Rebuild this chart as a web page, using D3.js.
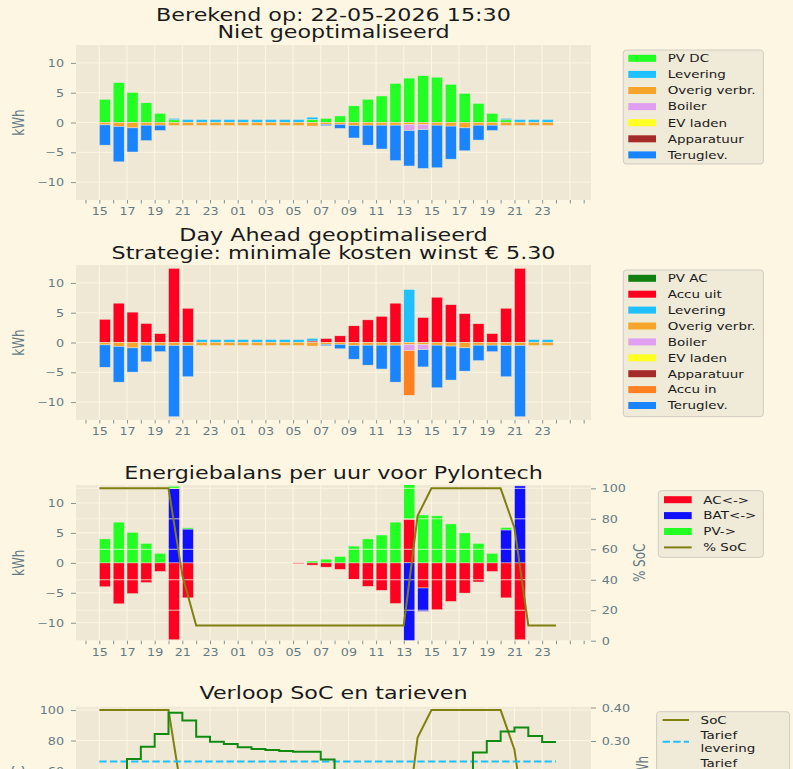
<!DOCTYPE html>
<html><head><meta charset="utf-8">
<script src="https://cdn.jsdelivr.net/npm/d3@7/dist/d3.min.js"></script>
<style>html,body{margin:0;padding:0;background:#fdf6e3;overflow:hidden}</style>
</head><body>
<svg id="chart" width="793" height="769" xmlns="http://www.w3.org/2000/svg"></svg>
<script>
// ---------------- DATA ----------------
const hourLabels = ["15","16","17","18","19","20","21","22","23","00","01","02","03","04","05","06","07","08","09","10","11","12","13","14","15","16","17","18","19","20","21","22","23"];

// Panel 1: Niet geoptimaliseerd (kWh)
const pvDC      = [3.9,6.7,5.05,3.3,1.55,0.45, 0,0,0,0,0,0,0,0,0, 0.5,0.7,1.1,2.8,3.9,4.45,6.55,7.45,7.85,7.6,6.4,4.9,3.2,1.55,0.45, 0,0,0];
const levering1 = [0,0,0,0,0,0.25, 0.5,0.5,0.5,0.5,0.5,0.5,0.5,0.5,0.5, 0.4,0,0,0,0,0,0,0,0,0,0,0,0,0,0.25, 0.5,0.5,0.5];
const overig    = [-0.4,-0.65,-0.9,-0.45,-0.45,-0.5, -0.5,-0.5,-0.5,-0.5,-0.5,-0.5,-0.5,-0.5,-0.5, -0.6,-0.3,-0.3,-0.5,-0.45,-0.45,-0.45,-0.35,-0.35,-0.45,-0.6,-0.9,-0.45,-0.45,-0.5, -0.5,-0.5,-0.5];
const boiler    = [0,0,0,0,0,0, 0,0,0,0,0,0,0,0,0, 0,0,0,0,0,0,0,-1.0,-0.85,0,0,0,0,0,0, 0,0,0];
const evLaden   = [0,0,0,0,0,0, 0,0,0,0,0,0,0,0,0, 0,0,0,0,0,0,0,0,0,0,0,0,0,0,0, 0,0,0];
const apparatuur= [0,0,0,0,0,0, 0,0,0,0,0,0,0,0,0, 0,0,0,0,0,0,0,0,0,0,0,0,0,0,0, 0,0,0];
const teruglev1 = [-3.4,-5.95,-4.05,-2.6,-0.9,0, 0,0,0,0,0,0,0,0,0, 0,-0.25,-0.7,-2.1,-3.35,-4.0,-5.95,-5.95,-6.5,-7.15,-5.55,-3.85,-2.5,-0.9,0, 0,0,0];

// Panel 2: Day Ahead geoptimaliseerd (kWh)
const pvAC      = [0,0,0,0,0,0,0, 0,0,0,0,0,0,0,0, 0,0,0,0,0,0,0, 0, 0,0,0,0,0,0,0,0, 0,0];
const accuUit   = [3.9,6.6,5.1,3.2,1.5,12.45,5.75, 0,0,0,0,0,0,0,0, 0.25,0.67,1.12,2.8,3.8,4.4,6.6, 0, 4.2,7.6,6.35,4.85,3.15,1.5,5.75,12.45, 0,0];
const levering2 = [0,0,0,0,0,0,0, 0.5,0.5,0.5,0.5,0.5,0.5,0.5,0.5, 0.45,0,0,0,0,0,0, 8.9, 0,0,0,0,0,0,0,0, 0.5,0.5];
const accuIn    = [0,0,0,0,0,0,0, 0,0,0,0,0,0,0,0, 0,0,0,0,0,0,0, -7.5, 0,0,0,0,0,0,0,0, 0,0];
const teruglev2 = [-3.75,-6.0,-4.07,-2.8,-1.1,-11.96,-5.25, 0,0,0,0,0,0,0,0, 0,-0.25,-0.76,-2.3,-3.35,-4.0,-6.2, 0, -2.9,-7.15,-5.7,-3.9,-2.6,-1.1,-5.25,-11.96, 0,0];

// Panel 3: Energiebalans per uur voor Pylontech (kWh)
const acFlow  = [-4.0,-6.85,-5.15,-3.3,-1.45,-12.85,-5.85, 0,0,0,0,0,0,0, -0.12,-0.38,-0.72,-1.1,-2.75,-3.93,-4.6,-6.8, 7.3, -4.2,-7.85,-6.45,-5.05,-3.2,-1.45,-5.85,-12.85, 0,0];
const batFlow = [0,0,0,0,0,12.4,5.65, 0,0,0,0,0,0,0,0,0,0,0,0,0,0,0, -13.2, -3.9, 0,0,0,0,0, 5.5,12.85, 0,0];
const pvFlow  = [4.0,6.8,5.1,3.25,1.6,0.4,0.2, 0,0,0,0,0,0,0,0, 0.3,0.62,1.07,2.8,4.0,4.65,6.8, 5.8, 8.0,7.85,6.5,5.0,3.25,1.6,0.4, 0, 0,0];

// SoC (%) at the start of each hour, 34 points
const soc = [100,100,100,100,100,100,43,10,10,10,10,10,10,10,10,10,10,10,10,10,10,10,10,82,100,100,100,100,100,100,74,10,10,10];

// Panel 4: tariffs (euro/kWh), 34 points, step "post"
const tariefTeruglev = [0.20,0.21,0.246,0.283,0.321,0.384,0.361,0.313,0.298,0.291,0.281,0.276,0.273,0.270,0.268,0.268,0.245,0.21,0.19,0.18,0.17,0.16,0.15,0.15,0.16,0.18,0.20,0.266,0.300,0.328,0.340,0.315,0.297,0.297];
const tariefLevering = [0.239,0.239,0.239,0.239,0.239,0.239,0.239,0.239,0.239,0.239,0.239,0.239,0.239,0.239,0.239,0.239,0.239,0.239,0.239,0.239,0.239,0.239,0.239,0.239,0.239,0.239,0.239,0.239,0.239,0.239,0.239,0.239,0.239,0.239];

const kwhTicks = [-10,-5,0,5,10];
const socTicks = [0,20,40,60,80,100];
const tariefTicks = [0.0,0.1,0.2,0.3,0.4];

// ---------------- STYLE ----------------
const SX = 1.27;
const FONT = "'DejaVu Sans', sans-serif";
const BG = "#fdf6e3", AXBG = "#eee8d5", GRID = "#fdf6e3", TICK = "#657b83", TXT = "#1a1a1a";
const C = {
  pvdc:"#22ff22", lev:"#20c0ff", overig:"#f5a52a", boiler:"#e09ff0", ev:"#ffff22",
  app:"#a52a2a", terug:"#1a84ff", pvac:"#118011", uit:"#ff0020", accuin:"#ff8020",
  ac:"#ff0020", bat:"#1010ff", pv:"#22ff22", soc:"#808010", tlev:"#20c0ff", tterug:"#128a12"
};

const svg = d3.select("#chart");
svg.append("rect").attr("width",793).attr("height",769).attr("fill",BG);

const L = 76, R = 591;
const x = d3.scaleLinear().domain([-1.685, 35.53]).range([L, R]);
const BARW = 0.8;

function txt(g, tx, ty, s, opt) {
  const size = opt.size || 10;
  const rot = opt.rot ? " rotate(" + opt.rot + ")" : "";
  return g.append("text")
    .attr("transform", "translate(" + tx + "," + ty + ") scale(" + SX + ",1)" + rot)
    .attr("font-family", FONT).attr("font-size", size)
    .attr("fill", opt.fill || TXT).attr("text-anchor", opt.anchor || "start")
    .text(s);
}

function panel(top, bottom, id) {
  const g = svg.append("g");
  g.append("rect").attr("x", L).attr("y", top).attr("width", R - L).attr("height", bottom - top).attr("fill", AXBG);
  svg.append("clipPath").attr("id", id).append("rect").attr("x", L).attr("y", top).attr("width", R - L).attr("height", bottom - top);
  return g;
}

function vgrid(g, top, bottom) {
  g.append("g").selectAll("line").data(d3.range(0, 35, 2)).join("line")
    .attr("x1", d => x(d)).attr("x2", d => x(d)).attr("y1", top).attr("y2", bottom)
    .attr("stroke", GRID).attr("stroke-width", 1);
}
function hgrid(g, y, ticks, op) {
  g.append("g").selectAll("line").data(ticks).join("line")
    .attr("x1", L).attr("x2", R).attr("y1", d => y(d)).attr("y2", d => y(d))
    .attr("stroke", GRID).attr("stroke-width", 1).attr("opacity", op == null ? 1 : op);
}

function xAxis(g, bottom) {
  const ax = d3.axisBottom(x).tickValues(d3.range(-1, 36)).tickSize(3.5).tickPadding(2)
    .tickFormat(i => (i % 2 === 0 && i >= 0 && hourLabels[i]) ? hourLabels[i] : "");
  const a = g.append("g").attr("transform", "translate(0," + bottom + ")").call(ax);
  a.select(".domain").remove();
  a.selectAll(".tick line").attr("stroke", TICK).attr("stroke-width", 0.8);
  a.selectAll(".tick text").attr("fill", TICK).attr("font-size", 10).attr("font-family", FONT)
    .attr("dy", null).attr("y", 15.5).attr("transform", "scale(" + SX + ",1)");
}
function yAxis(g, y, ticks, fmt, side) {
  const ax = (side === "left" ? d3.axisLeft(y) : d3.axisRight(y)).tickValues(ticks).tickSize(5).tickFormat(fmt);
  const a = g.append("g").attr("transform", "translate(" + (side === "left" ? L : R) + ",0)").call(ax);
  a.select(".domain").remove();
  a.selectAll(".tick line").attr("stroke", TICK).attr("stroke-width", 0.8);
  a.selectAll(".tick text").attr("fill", TICK).attr("font-size", 10).attr("font-family", FONT)
    .attr("x", side === "left" ? -12 / SX : 10.7 / SX).attr("dy", "0.35em")
    .attr("transform", "scale(" + SX + ",1)");
}

function stackedBars(g, clipId, y, series) {
  const keys = series.map(s => s.key);
  const rows = hourLabels.map(function (lab, i) {
    const r = {};
    series.forEach(function (s) { r[s.key] = s.values[i]; });
    return r;
  });
  const stacked = d3.stack().keys(keys).offset(d3.stackOffsetDiverging)(rows);
  const bg = g.append("g").attr("clip-path", "url(#" + clipId + ")");
  stacked.forEach(function (layer, k) {
    const segs = [];
    layer.forEach(function (d, i) {
      if (Math.abs(d[1] - d[0]) > 1e-9) segs.push({ lo: Math.min(d[0], d[1]), hi: Math.max(d[0], d[1]), i: i });
    });
    bg.append("g").selectAll("rect").data(segs).join("rect")
      .attr("x", s => x(s.i)).attr("width", s => x(s.i + BARW) - x(s.i))
      .attr("y", s => y(s.hi)).attr("height", s => y(s.lo) - y(s.hi))
      .attr("fill", series[k].color).attr("stroke", AXBG).attr("stroke-width", 0.5);
  });
}

function legend(g, bx, by, bw, bh, items, rowY, step, hx, hw, tx) {
  g.append("rect").attr("x", bx).attr("y", by).attr("width", bw).attr("height", bh)
    .attr("rx", 3).attr("fill", "#f0ead9").attr("stroke", "#cfcbc0").attr("stroke-width", 1);
  items.forEach(function (it, k) {
    const cy = rowY + k * step;
    if (it.line) {
      g.append("line").attr("x1", hx).attr("x2", hx + hw).attr("y1", cy).attr("y2", cy)
        .attr("stroke", it.color).attr("stroke-width", 2);
    } else {
      g.append("rect").attr("x", hx).attr("y", cy - 3.5).attr("width", hw).attr("height", 7).attr("fill", it.color);
    }
    txt(g, tx, cy + 3.8, it.label, { size: 10.6 });
  });
}

const kfmt = d3.format("d");

// ---------------- PANEL 1 ----------------
(function () {
  const top = 45, bottom = 200;
  const y = d3.scaleLinear().domain([-13, 13]).range([bottom, top]);
  const g = panel(top, bottom, "c1");
  vgrid(g, top, bottom); hgrid(g, y, kwhTicks);
  stackedBars(g, "c1", y, [
    { key: "PV DC", values: pvDC, color: C.pvdc },
    { key: "Levering", values: levering1, color: C.lev },
    { key: "Overig verbr.", values: overig, color: C.overig },
    { key: "Boiler", values: boiler, color: C.boiler },
    { key: "EV laden", values: evLaden, color: C.ev },
    { key: "Apparatuur", values: apparatuur, color: C.app },
    { key: "Teruglev.", values: teruglev1, color: C.terug }
  ]);
  xAxis(g, bottom); yAxis(g, y, kwhTicks, kfmt, "left");
  txt(g, 333.5, 20.7, "Berekend op: 22-05-2026 15:30", { size: 17.5, anchor: "middle" });
  txt(g, 333.5, 37.7, "Niet geoptimaliseerd", { size: 17.5, anchor: "middle" });
  txt(g, 24, (top + bottom) / 2, "kWh", { size: 12, anchor: "middle", rot: -90, fill: TICK });
  legend(g, 623.3, 50, 140, 114, [
    { label: "PV DC", color: C.pvdc }, { label: "Levering", color: C.lev },
    { label: "Overig verbr.", color: C.overig }, { label: "Boiler", color: C.boiler },
    { label: "EV laden", color: C.ev }, { label: "Apparatuur", color: C.app },
    { label: "Teruglev.", color: C.terug }
  ], 58.3, 16.1, 628.3, 27.7, 667.7);
})();

// ---------------- PANEL 2 ----------------
(function () {
  const top = 265, bottom = 420;
  const y = d3.scaleLinear().domain([-13, 13]).range([bottom, top]);
  const g = panel(top, bottom, "c2");
  vgrid(g, top, bottom); hgrid(g, y, kwhTicks);
  stackedBars(g, "c2", y, [
    { key: "PV AC", values: pvAC, color: C.pvac },
    { key: "Accu uit", values: accuUit, color: C.uit },
    { key: "Levering", values: levering2, color: C.lev },
    { key: "Overig verbr.", values: overig, color: C.overig },
    { key: "Boiler", values: boiler, color: C.boiler },
    { key: "EV laden", values: evLaden, color: C.ev },
    { key: "Apparatuur", values: apparatuur, color: C.app },
    { key: "Accu in", values: accuIn, color: C.accuin },
    { key: "Teruglev.", values: teruglev2, color: C.terug }
  ]);
  xAxis(g, bottom); yAxis(g, y, kwhTicks, kfmt, "left");
  txt(g, 333.5, 241, "Day Ahead geoptimaliseerd", { size: 17.5, anchor: "middle" });
  txt(g, 333.5, 258.5, "Strategie: minimale kosten winst € 5.30", { size: 17.5, anchor: "middle" });
  txt(g, 24, (top + bottom) / 2, "kWh", { size: 12, anchor: "middle", rot: -90, fill: TICK });
  legend(g, 623.3, 270, 140, 146.7, [
    { label: "PV AC", color: C.pvac }, { label: "Accu uit", color: C.uit },
    { label: "Levering", color: C.lev }, { label: "Overig verbr.", color: C.overig },
    { label: "Boiler", color: C.boiler }, { label: "EV laden", color: C.ev },
    { label: "Apparatuur", color: C.app }, { label: "Accu in", color: C.accuin },
    { label: "Teruglev.", color: C.terug }
  ], 278.3, 15.9, 628.3, 27.7, 667.7);
})();

// ---------------- PANEL 3 ----------------
(function () {
  const top = 485, bottom = 640.7;
  const y = d3.scaleLinear().domain([-13, 13]).range([bottom, top]);
  const y2 = d3.scaleLinear().domain([0, 102.2]).range([bottom, top]);
  const g = panel(top, bottom, "c3");
  vgrid(g, top, bottom); hgrid(g, y, kwhTicks);
  stackedBars(g, "c3", y, [
    { key: "AC<->", values: acFlow, color: C.ac },
    { key: "BAT<->", values: batFlow, color: C.bat },
    { key: "PV->", values: pvFlow, color: C.pv }
  ]);
  hgrid(g, y2, socTicks, 0.75);
  g.append("path").datum(soc).attr("clip-path", "url(#c3)")
    .attr("d", d3.line().x((d, i) => x(i)).y(d => y2(d)))
    .attr("fill", "none").attr("stroke", C.soc).attr("stroke-width", 2);
  xAxis(g, bottom); yAxis(g, y, kwhTicks, kfmt, "left"); yAxis(g, y2, socTicks, kfmt, "right");
  txt(g, 333.5, 479.3, "Energiebalans per uur voor Pylontech", { size: 17.5, anchor: "middle" });
  txt(g, 24, (top + bottom) / 2, "kWh", { size: 12, anchor: "middle", rot: -90, fill: TICK });
  txt(g, 645, (top + bottom) / 2, "% SoC", { size: 12, anchor: "middle", rot: -90, fill: TICK });
  legend(g, 658.3, 490.7, 105, 66.6, [
    { label: "AC<->", color: C.ac }, { label: "BAT<->", color: C.bat },
    { label: "PV->", color: C.pv }, { label: "% SoC", color: C.soc, line: true }
  ], 499.7, 15.9, 664, 27.7, 703.3);
})();

// ---------------- PANEL 4 ----------------
(function () {
  const top = 706.7, bottom = 862.4;
  const y = d3.scaleLinear().domain([0, 102.2]).range([bottom, top]);
  const y2 = d3.scaleLinear().domain([-0.0624, 0.4024]).range([bottom, top]);
  const g = panel(top, bottom, "c4");
  vgrid(g, top, bottom); hgrid(g, y, socTicks);
  g.append("path").datum(soc).attr("clip-path", "url(#c4)")
    .attr("d", d3.line().x((d, i) => x(i)).y(d => y(d)))
    .attr("fill", "none").attr("stroke", C.soc).attr("stroke-width", 2);
  g.append("path").datum(tariefLevering).attr("clip-path", "url(#c4)")
    .attr("d", d3.line().x((d, i) => x(i)).y(d => y2(d)))
    .attr("fill", "none").attr("stroke", C.tlev).attr("stroke-width", 2).attr("stroke-dasharray", "7.4,3.2");
  g.append("path").datum(tariefTeruglev).attr("clip-path", "url(#c4)")
    .attr("d", d3.line().curve(d3.curveStepAfter).x((d, i) => x(i)).y(d => y2(d)))
    .attr("fill", "none").attr("stroke", C.tterug).attr("stroke-width", 2);
  yAxis(g, y, socTicks, kfmt, "left"); yAxis(g, y2, tariefTicks, d3.format(".2f"), "right");
  txt(g, 333.5, 699.3, "Verloop SoC en tarieven", { size: 17.5, anchor: "middle" });
  txt(g, 24, (top + bottom) / 2, "% SoC", { size: 12, anchor: "middle", rot: -90, fill: TICK });
  txt(g, 648, 784.5, "euro/kWh", { size: 12, anchor: "middle", rot: -90, fill: TICK });
  g.append("rect").attr("x", 656.6).attr("y", 711.7).attr("width", 133).attr("height", 90)
    .attr("rx", 3).attr("fill", "#f0ead9").attr("stroke", "#cfcbc0").attr("stroke-width", 1);
  const lx = 662.6, lw = 26.4, tx = 700.6;
  g.append("line").attr("x1", lx).attr("x2", lx + lw).attr("y1", 720).attr("y2", 720).attr("stroke", C.soc).attr("stroke-width", 2);
  txt(g, tx, 723.8, "SoC", { size: 10.6 });
  g.append("line").attr("x1", lx).attr("x2", lx + lw).attr("y1", 741.7).attr("y2", 741.7).attr("stroke", C.tlev).attr("stroke-width", 2).attr("stroke-dasharray", "7.4,3.2");
  txt(g, tx, 738.8, "Tarief", { size: 10.6 });
  txt(g, tx, 752.1, "levering", { size: 10.6 });
  g.append("line").attr("x1", lx).attr("x2", lx + lw).attr("y1", 770).attr("y2", 770).attr("stroke", C.tterug).attr("stroke-width", 2);
  txt(g, tx, 767.1, "Tarief", { size: 10.6 });
  txt(g, tx, 780.4, "teruglev.", { size: 10.6 });
})();
</script>
</body></html>
